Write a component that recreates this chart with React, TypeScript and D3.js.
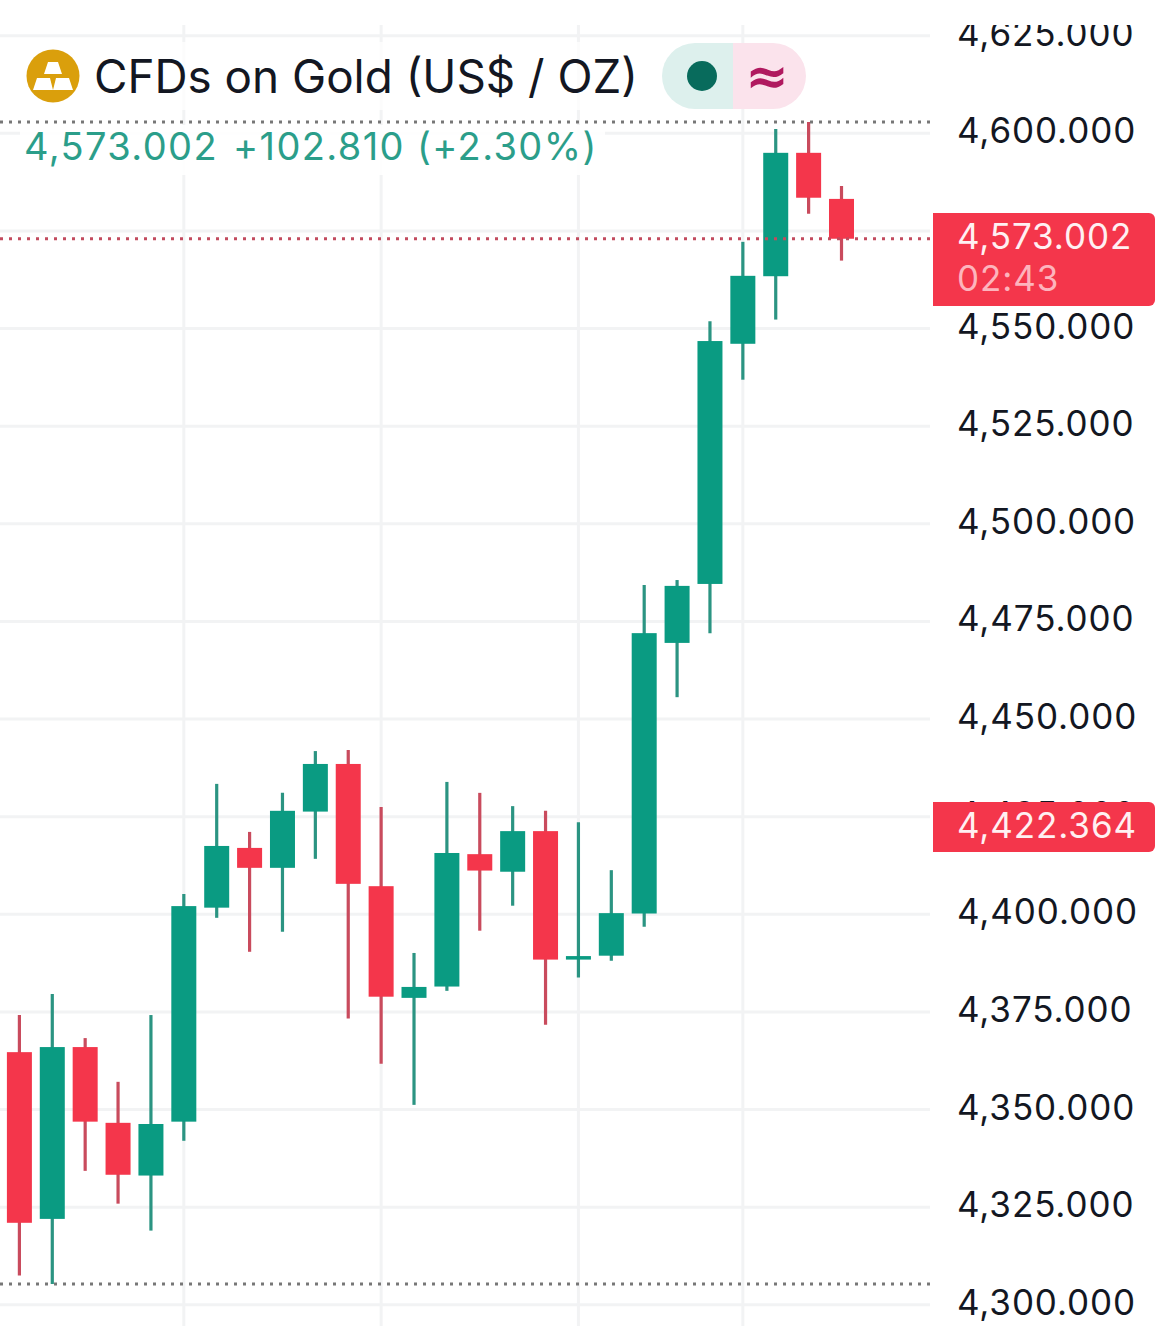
import React from 'react';
import * as d3 from 'd3';

const WIDTH = 1170;
const HEIGHT = 1326;

// OHLC per candle
const opens = [4364.7, 4322.0, 4366.0, 4346.6, 4333.1, 4346.9, 4401.7, 4417.0, 4411.9, 4426.3, 4438.5, 4407.2, 4378.6, 4381.5, 4415.4, 4410.9, 4421.3, 4388.4, 4389.4, 4400.2, 4469.5, 4484.6, 4546.1, 4563.4, 4595.0, 4583.2];
const highs = [4374.2, 4379.6, 4368.3, 4357.1, 4374.2, 4405.2, 4433.4, 4421.1, 4431.1, 4441.8, 4442.1, 4427.5, 4390.1, 4433.9, 4431.1, 4427.7, 4426.5, 4423.6, 4411.3, 4484.3, 4485.6, 4551.9, 4572.2, 4601.1, 4602.9, 4586.5];
const lows = [4307.5, 4305.3, 4334.3, 4325.9, 4319.0, 4342.0, 4399.1, 4390.4, 4395.5, 4414.2, 4373.3, 4361.7, 4351.2, 4380.4, 4395.8, 4402.2, 4371.7, 4383.8, 4388.1, 4396.8, 4455.6, 4472.0, 4536.9, 4552.3, 4579.4, 4567.4];
const closes = [4321.0, 4366.0, 4346.9, 4333.3, 4346.3, 4402.1, 4417.5, 4411.9, 4426.5, 4438.5, 4407.8, 4378.9, 4381.4, 4415.7, 4411.2, 4421.3, 4388.4, 4389.3, 4400.3, 4472.0, 4484.1, 4546.8, 4563.5, 4595.0, 4583.5, 4573.0];

const gridTicks = [4300, 4325, 4350, 4375, 4400, 4425, 4450, 4475, 4500, 4525, 4550, 4575, 4600, 4625];
// 4,575 sits completely under the last price tag, so it has no label
const labelTicks = gridTicks.filter(t => t !== 4575);
const timeGridCandles = [5, 11, 17, 22];

const lastPrice = 4573.002;
const prevClosePrice = 4422.364;
const sessionHigh = 4602.9;
const sessionLow = 4305.3;

const UP = '#0a9b82';
const DOWN = '#f4364b';
const UP_WICK = '#2b9482';
const DOWN_WICK = '#c94b5d';
const GRID = '#f2f3f4';
const PLOT_RIGHT = 930;
const FONT = 'Inter, Roboto, sans-serif';

const y = d3.scaleLinear().domain([4300, 4600]).range([1304.8, 133.3]);
const x = d3.scaleLinear().domain([0, opens.length - 1]).range([19.4, 841.5]);
const fmt = d3.format(',.3f');
const BODY_W = 25;

// price tag on the axis, square on the left and rounded on the right
const tagPath = (top: number, bottom: number) => {
    const p = d3.path();
    p.moveTo(933, top);
    p.lineTo(1149, top);
    p.arcTo(1155, top, 1155, top + 6, 6);
    p.lineTo(1155, bottom - 6);
    p.arcTo(1155, bottom, 1149, bottom, 6);
    p.lineTo(933, bottom);
    p.closePath();
    return p.toString();
};

export default function App() {
    return (
        <svg
            width={WIDTH}
            height={HEIGHT}
            viewBox={`0 0 ${WIDTH} ${HEIGHT}`}
            style={{ position: 'absolute', left: 0, top: 0, display: 'block', background: '#fff', fontFamily: FONT }}
        >
            <defs>
                <clipPath id="axis-clip">
                    <rect x={931} y={25} width={239} height={1301} />
                </clipPath>
            </defs>

            {/* grid */}
            {gridTicks.map(t => (
                <line key={t} x1={0} x2={PLOT_RIGHT} y1={y(t)} y2={y(t)} stroke={GRID} strokeWidth={3} />
            ))}
            {timeGridCandles.map(i => (
                <line key={i} x1={x(i)} x2={x(i)} y1={25} y2={HEIGHT} stroke={GRID} strokeWidth={3} />
            ))}

            {/* legend backdrop */}
            <rect x={0} y={42} width={640} height={68} fill="#fff" fillOpacity={0.75} />
            <rect x={20} y={125} width={585} height={50} fill="#fff" fillOpacity={0.9} />

            {/* candles */}
            {opens.map((o, i) => {
                const c = closes[i];
                const up = c >= o;
                return (
                    <g key={i}>
                        <line x1={x(i)} x2={x(i)} y1={y(highs[i])} y2={y(lows[i])} stroke={up ? UP_WICK : DOWN_WICK} strokeWidth={3.2} />
                        <rect
                            x={x(i) - BODY_W / 2}
                            y={y(Math.max(o, c))}
                            width={BODY_W}
                            height={Math.abs(y(o) - y(c))}
                            fill={up ? UP : DOWN}
                        />
                    </g>
                );
            })}

            {/* high / low / last price lines */}
            <line x1={0} x2={PLOT_RIGHT} y1={y(sessionHigh)} y2={y(sessionHigh)} stroke="#777" strokeWidth={3} strokeDasharray="3 6" />
            <line x1={0} x2={PLOT_RIGHT} y1={y(sessionLow)} y2={y(sessionLow)} stroke="#777" strokeWidth={3} strokeDasharray="3 6" />
            <line x1={0} x2={PLOT_RIGHT} y1={y(lastPrice)} y2={y(lastPrice)} stroke="#c24b5e" strokeWidth={3} strokeDasharray="3 6" />

            {/* price axis */}
            <g clipPath="url(#axis-clip)">
                {labelTicks.map(t => (
                    <text key={t} x={957} y={y(t) + 10} fontSize={35} letterSpacing={0.9} fill="#131722">
                        {fmt(t)}
                    </text>
                ))}
            </g>

            <path d={tagPath(213, 306)} fill={DOWN} />
            <text x={957} y={249} fontSize={35} letterSpacing={0.9} fill="#fff0f2">{fmt(lastPrice)}</text>
            <text x={957} y={291} fontSize={35} letterSpacing={0.9} fill="#fdb4bd">02:43</text>

            <path d={tagPath(802, 852)} fill={DOWN} />
            <text x={957} y={838} fontSize={35} letterSpacing={0.9} fill="#fff0f2">{fmt(prevClosePrice)}</text>

            {/* legend */}
            <circle cx={53} cy={76} r={26.5} fill="#da9f0c" />
            <path d="M48 62H58L62 74H44Z M37 78H50L53 90H33Z M56 78H69L73 90H53Z" fill="#fff" />
            <text x={94} y={93} fontSize={45.8} fill="#131722">CFDs on Gold (US$ / OZ)</text>
            <text x={24} y={160} fontSize={38} letterSpacing={1.4} fill="#2b9e8a">
                4,573.002
            </text>
            <text x={233} y={160} fontSize={38} letterSpacing={1.4} fill="#2b9e8a">
                +102.810 (+2.30%)
            </text>

            <path d="M695 43H733V109H695A33 33 0 0 1 695 43Z" fill="#ddf0ed" />
            <path d="M733 43H773A33 33 0 0 1 773 109H733Z" fill="#fbe3ec" />
            <circle cx={702} cy={76} r={15} fill="#086b5c" />
            <text x={767} y={94} textAnchor="middle" fontSize={52} fontWeight={700} fontFamily="'DejaVu Sans', sans-serif" fill="#b0195f">≈</text>
        </svg>
    );
}
